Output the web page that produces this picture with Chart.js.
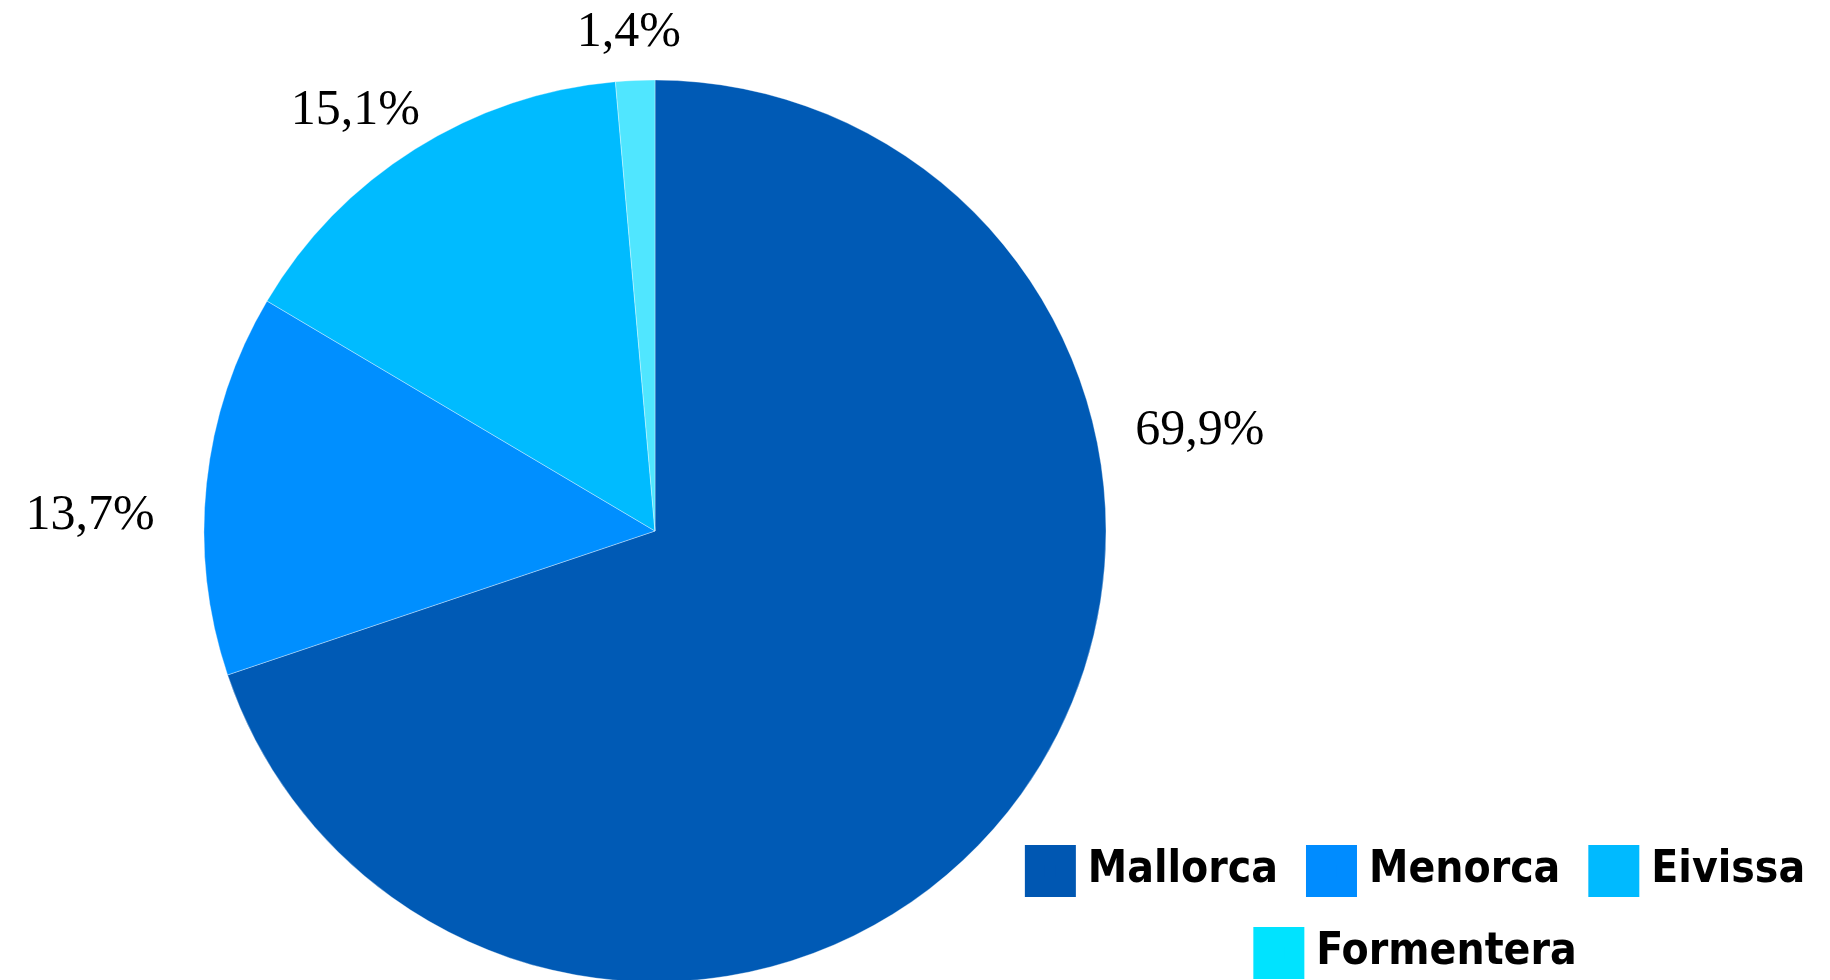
<!DOCTYPE html>
<html>
<head>
<meta charset="utf-8">
<script src="https://cdn.jsdelivr.net/npm/chart.js@4/dist/chart.umd.min.js"></script>
<style>
  html, body { margin: 0; padding: 0; background: #fff; overflow: hidden; }
  #wrap { position: relative; width: 1830px; height: 980px; overflow: hidden; }
  #pie { position: absolute; left: 0; top: 0; }
  #legendChart { position: absolute; left: 970px; top: 811px; }
</style>
</head>
<body>
<div id="wrap">
  <canvas id="pie" width="1830" height="980"></canvas>
  <canvas id="legendChart" width="900" height="360"></canvas>
</div>
<script>
// Data
const islands = ['Mallorca', 'Menorca', 'Eivissa', 'Formentera'];
const shares = [69.9, 13.7, 15.1, 1.4];
const sliceColors = ['#005AB5', '#008FFF', '#00BBFF', '#50E6FF'];
const legendColors = ['#0057B2', '#008CFF', '#00BAFF', '#00E3FF'];

const shareLabels = shares.map(v => v.toFixed(1).replace('.', ',') + '%');

// percentage labels around the pie (angle clockwise from top, gap outside the rim)
const sliceLabels = {
    id: 'sliceLabels',
    afterDatasetsDraw(chart, args, opts) {
        const ctx = chart.ctx;
        const meta = chart.getDatasetMeta(0);
        ctx.save();
        ctx.font = opts.font;
        ctx.fillStyle = opts.color;
        ctx.textAlign = 'center';
        ctx.textBaseline = 'middle';
        meta.data.forEach((arc, i) => {
            const p = opts.place[i];
            const a = (p.angle - 90) * Math.PI / 180;
            const d = arc.outerRadius + p.gap;
            ctx.fillText(shareLabels[i], arc.x + Math.cos(a) * d, arc.y + Math.sin(a) * d);
        });
        ctx.restore();
    }
};

new Chart(document.getElementById('pie'), {
    type: 'pie',
    data: {
        labels: islands,
        datasets: [{
            data: shares,
            backgroundColor: sliceColors,
            borderColor: 'rgba(255,255,255,0.35)',
            borderWidth: 1,
            radius: 451
        }]
    },
    options: {
        responsive: false,
        animation: false,
        devicePixelRatio: 1,
        layout: { padding: { top: 82, right: 520, left: 0, bottom: 0 } },
        plugins: {
            legend: { display: false },
            tooltip: { enabled: false },
            sliceLabels: {
                font: '50px "Liberation Serif", "DejaVu Serif", serif',
                color: '#000',
                place: [
                    { angle: 79.6, gap: 103 },
                    { angle: 271.5, gap: 114 },
                    { angle: 324.5, gap: 65 },
                    { angle: 357, gap: 48 }
                ]
            }
        }
    },
    plugins: [sliceLabels]
});

// legend drawn by a second chart so it can sit beside the pie;
// a wide stroke in the fill colour keeps the swatch big but the text close to it
new Chart(document.getElementById('legendChart'), {
    type: 'pie',
    data: {
        labels: islands,
        datasets: [{
            data: shares,
            backgroundColor: 'transparent',
            borderWidth: 0,
            radius: 0
        }]
    },
    options: {
        responsive: false,
        animation: false,
        devicePixelRatio: 1,
        events: [],
        plugins: {
            tooltip: { enabled: false },
            legend: {
                position: 'top',
                labels: {
                    boxWidth: 31,
                    boxHeight: 32,
                    padding: 38,
                    color: '#000',
                    font: { family: '"DejaVu Sans Condensed", "DejaVu Sans", sans-serif', size: 44, weight: 'bold' },
                    generateLabels: () => islands.map((name, i) => ({
                        text: name,
                        fillStyle: legendColors[i],
                        strokeStyle: legendColors[i],
                        lineWidth: 20,
                        hidden: false,
                        index: i
                    }))
                }
            }
        }
    }
});
</script>
</body>
</html>
